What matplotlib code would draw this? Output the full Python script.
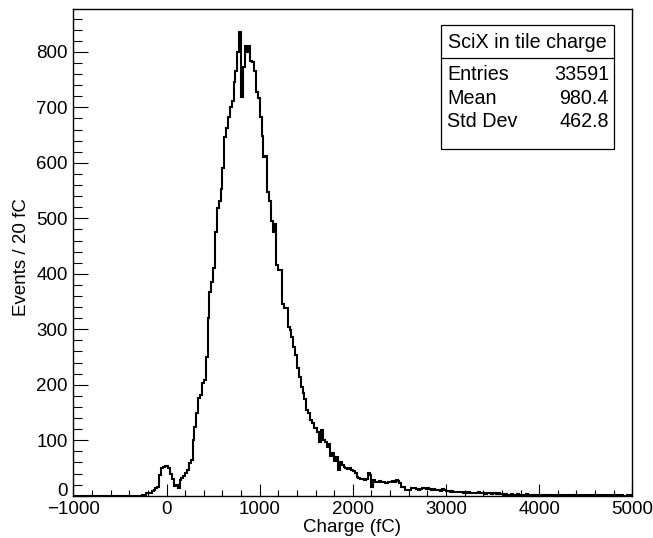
import numpy as np
import matplotlib
matplotlib.use('Agg')
import matplotlib.pyplot as plt
import matplotlib.transforms as mtransforms
from matplotlib.patches import Rectangle
from matplotlib.lines import Line2D
from matplotlib.ticker import MultipleLocator

plt.rcParams['font.family'] = ['Liberation Sans', 'DejaVu Sans']

# histogram binning: 300 bins of 20 fC from -1000 to 5000
x_min, x_max, bin_width = -1000, 5000, 20

# counts per bin (grouped per 1000 fC)
counts_m1000 = [0] * 37 + [1, 2, 4, 5, 5, 9, 10, 14, 16, 37, 50, 52, 54]
counts_0 = [53, 50, 40, 30, 18, 19, 14, 28, 32, 36,
            41, 46, 59, 64, 100, 124, 149, 176, 182, 204,
            208, 250, 320, 367, 385, 410, 475, 518, 532, 553,
            590, 646, 662, 682, 700, 712, 745, 766, 799, 835,
            718, 772, 811, 799, 811, 784, 781, 766, 727, 716]
counts_1000 = [682, 648, 610, 613, 547, 532, 496, 476, 490, 415,
               406, 406, 346, 338, 338, 304, 298, 286, 268, 253,
               230, 214, 196, 185, 175, 154, 149, 136, 131, 122,
               122, 115, 96, 118, 100, 97, 88, 94, 72, 77,
               62, 70, 46, 61, 55, 52, 50, 48, 50, 46]
counts_2000 = [44, 41, 34, 32, 30, 30, 29, 30, 41, 38,
               16, 28, 24, 25, 26, 24, 25, 23, 22, 24,
               25, 26, 24, 28, 27, 23, 16, 15, 10, 11,
               10, 14, 13, 14, 12, 11, 12, 13, 14, 12,
               13, 12, 11, 12, 10, 11, 10, 9, 12, 11]
counts_3000 = [9, 8, 7, 8, 7, 6, 7, 6, 7, 5,
               6, 5, 6, 4, 5, 5, 4, 6, 5, 4,
               5, 3, 4, 5, 3, 4, 4, 3, 4, 3,
               3, 2, 3, 2, 2, 3, 1, 2, 3, 2,
               2, 1, 2, 3, 2, 1, 2, 2, 1, 2]
counts_4000 = [1, 2, 1, 1, 0, 2, 1, 1, 2, 1,
               1, 0, 1, 2, 1, 1, 0, 1, 1, 2,
               1, 1, 0, 1, 1, 0, 2, 1, 0, 1,
               1, 0, 1, 1, 0, 1, 1, 0, 1, 1,
               0, 1, 1, 0, 1, 0, 0, 1, 0, 1]

stats_title = 'SciX in tile charge'
stats_names = ['Entries', 'Mean', 'Std Dev']
stats_values = ['33591', '980.4', '462.8']

counts = np.array(counts_m1000 + counts_0 + counts_1000 +
                  counts_2000 + counts_3000 + counts_4000, dtype=float)
edges = np.arange(x_min, x_max + bin_width, bin_width)

W, H = 653, 538
fig = plt.figure(figsize=(W / 100, H / 100), dpi=100)
ax = fig.add_axes([73.4 / W, 1 - 495.7 / H, (632.3 - 73.4) / W, (495.7 - 9.3) / H])

ax.stairs(counts, edges, color='black', lw=1.5)
ax.set_xlim(x_min, x_max)
ax.set_ylim(0, counts.max() * 1.05)

ax.xaxis.set_major_locator(MultipleLocator(1000))
ax.xaxis.set_minor_locator(MultipleLocator(200))
ax.yaxis.set_major_locator(MultipleLocator(100))
ax.yaxis.set_minor_locator(MultipleLocator(20))
ax.tick_params(axis='both', which='both', direction='in', top=False, right=False,
               labelsize=13.5, width=0.8)
ax.tick_params(axis='x', which='major', length=8.4, pad=4)
ax.tick_params(axis='x', which='minor', length=4.5)
ax.tick_params(axis='y', which='major', length=10.5, pad=4)
ax.tick_params(axis='y', which='minor', length=6.5)
for sp in ax.spines.values():
    sp.set_linewidth(1.0)

# lift the y "0" label a little, as ROOT does, so it clears "-1000"
fig.canvas.draw()
for lab in ax.get_yticklabels():
    if lab.get_text() == '0':
        lab.set_transform(lab.get_transform() +
                          mtransforms.ScaledTranslation(0, 6 / 100, fig.dpi_scale_trans))

fig.text(352 / W, 1 - 527 / H, 'Charge (fC)', fontsize=13.5, ha='center', va='center')
fig.text(22 / W, 1 - 257 / H, 'Events / 20 fC', fontsize=13.5, ha='center',
         va='center', rotation=90)

# stats box
bx0, bx1, by_top, by_bot, by_sep = 440.7, 614, 25, 149, 58
fig.patches.append(Rectangle((bx0 / W, 1 - by_bot / H), (bx1 - bx0) / W,
                             (by_bot - by_top) / H, transform=fig.transFigure,
                             facecolor='white', edgecolor='black', lw=0.9, zorder=5))
fig.lines.append(Line2D([bx0 / W, bx1 / W], [1 - by_sep / H, 1 - by_sep / H],
                        transform=fig.transFigure, color='black', lw=0.9, zorder=6))
fig.text((bx0 + bx1) / 2 / W, 1 - 42 / H, stats_title, fontsize=14.2,
         ha='center', va='center', zorder=7)
for i, (name, val) in enumerate(zip(stats_names, stats_values)):
    yy = 1 - (74.3 + 23.8 * i) / H
    fig.text(447 / W, yy, name, fontsize=14.2, ha='left', va='center', zorder=7)
    fig.text(609 / W, yy, val, fontsize=14.2, ha='right', va='center', zorder=7)

fig.savefig('out.png', dpi=100)
